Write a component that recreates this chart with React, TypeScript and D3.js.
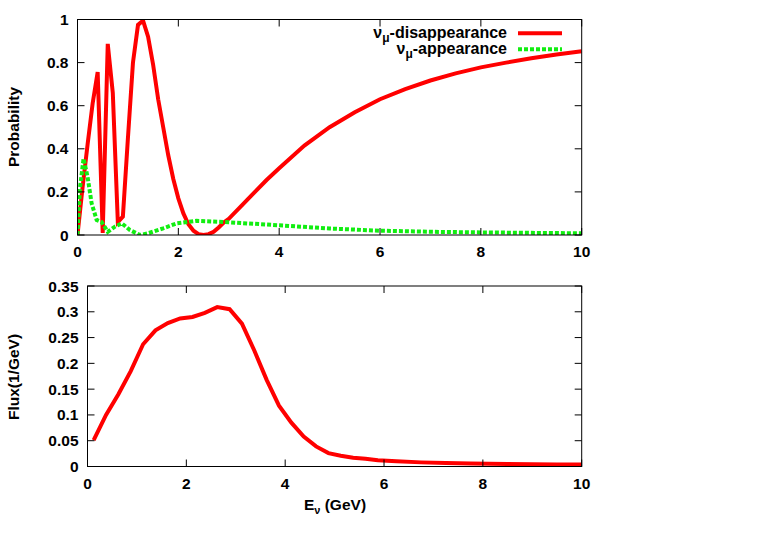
import React from 'react'
import * as d3 from 'd3'

// top panel: oscillation probabilities vs E (GeV)
const disE = [0, 0.1, 0.2, 0.3, 0.4, 0.5, 0.6, 0.7, 0.8, 0.9, 1.0, 1.1, 1.2, 1.3, 1.4, 1.5,
  1.6, 1.7, 1.8, 1.9, 2.0, 2.1, 2.2, 2.3, 2.4, 2.5, 2.6, 2.7, 2.8, 2.9, 3.0,
  3.25, 3.5, 3.75, 4.0, 4.5, 5.0, 5.5, 6.0, 6.5, 7.0, 7.5, 8.0, 8.5, 9.0, 9.5, 10]
const disP = [0, 0.22, 0.42, 0.61, 0.756, 0.01, 0.887, 0.66, 0.06, 0.085, 0.45, 0.8, 0.975, 0.995, 0.92, 0.79,
  0.63, 0.5, 0.37, 0.26, 0.17, 0.1, 0.05, 0.02, 0.004, 0, 0.004, 0.015, 0.035, 0.058, 0.075,
  0.135, 0.195, 0.255, 0.31, 0.415, 0.5, 0.57, 0.63, 0.677, 0.717, 0.75, 0.778, 0.8, 0.82, 0.838, 0.853]

const appE = [0, 0.05, 0.12, 0.2, 0.28, 0.38, 0.48, 0.6, 0.75, 0.88, 1.04, 1.24, 1.4, 1.7, 1.97, 2.36,
  3.0, 3.5, 4.0, 5.0, 6.0, 7.0, 8.0, 9.0, 10]
const appP = [0, 0.22, 0.355, 0.27, 0.147, 0.07, 0.06, 0.015, 0.04, 0.054, 0.023, 0, 0.008, 0.031, 0.054, 0.066,
  0.059, 0.052, 0.045, 0.03, 0.02, 0.015, 0.012, 0.01, 0.008]

// bottom panel: flux
const fluxE = [0.125, 0.375, 0.625, 0.875, 1.125, 1.375, 1.625, 1.875, 2.125, 2.375, 2.625, 2.875,
  3.125, 3.375, 3.625, 3.875, 4.125, 4.375, 4.625, 4.875, 5.125, 5.375, 5.625, 5.875,
  6.25, 6.75, 7.25, 7.75, 8.5, 9.5, 10]
const fluxV = [0.051, 0.1, 0.14, 0.185, 0.237, 0.264, 0.278, 0.287, 0.29, 0.298, 0.309, 0.305,
  0.277, 0.225, 0.168, 0.118, 0.085, 0.058, 0.039, 0.026, 0.021, 0.017, 0.015, 0.012,
  0.01, 0.008, 0.007, 0.006, 0.005, 0.004, 0.004]

const xTicks = [0, 2, 4, 6, 8, 10]
const probTicks = [0, 0.2, 0.4, 0.6, 0.8, 1]
const probLabels = ['0', '0.2', '0.4', '0.6', '0.8', '1']
const fluxTicks = [0, 0.05, 0.1, 0.15, 0.2, 0.25, 0.3, 0.35]
const fluxLabels = ['0', '0.05', '0.1', '0.15', '0.2', '0.25', '0.3', '0.35']

const FONT = '"Liberation Sans", Arial, Helvetica, sans-serif'
const FS = 15.5
const TICK = 7
const GREEN = '#11ee11'

type Pt = [number, number]

const Panel = ({ x0, x1, y0, y1, yMax, yTicks, yLabels, clipId, children }: any) => {
  const xs = d3.scaleLinear().domain([0, 10]).range([x0, x1])
  const ys = d3.scaleLinear().domain([0, yMax]).range([y1, y0])
  return (
    <g>
      <defs>
        <clipPath id={clipId}>
          <rect x={x0} y={y0} width={x1 - x0} height={y1 - y0} />
        </clipPath>
      </defs>
      <g clipPath={`url(#${clipId})`}>{children(xs, ys)}</g>
      <rect x={x0} y={y0} width={x1 - x0} height={y1 - y0} fill="none" stroke="#000" strokeWidth={1} />
      {xTicks.map(t => (
        <g key={'x' + t}>
          <line x1={xs(t)} x2={xs(t)} y1={y1} y2={y1 - TICK} stroke="#000" />
          <line x1={xs(t)} x2={xs(t)} y1={y0} y2={y0 + TICK} stroke="#000" />
          <text x={xs(t)} y={y1 + 22} textAnchor="middle" fontSize={FS} fontWeight="bold" fontFamily={FONT}>{t}</text>
        </g>
      ))}
      {yTicks.map((t: number, i: number) => (
        <g key={'y' + t}>
          <line x1={x0} x2={x0 + TICK} y1={ys(t)} y2={ys(t)} stroke="#000" />
          <line x1={x1} x2={x1 - TICK} y1={ys(t)} y2={ys(t)} stroke="#000" />
          <text x={x0 - 9} y={ys(t) + 5.5} textAnchor="end" fontSize={FS} fontWeight="bold" fontFamily={FONT}>{yLabels[i]}</text>
        </g>
      ))}
    </g>
  )
}

export default function App() {
  const line = (xs: any, ys: any) => d3.line<Pt>().x(d => xs(d[0])).y(d => ys(d[1]))
  const dis: Pt[] = disE.map((e, i) => [e, disP[i]])
  const app: Pt[] = appE.map((e, i) => [e, appP[i]])
  const flux: Pt[] = fluxE.map((e, i) => [e, fluxV[i]])

  return (
    <svg width={763} height={534} style={{ position: 'absolute', left: 0, top: 0, background: '#fff' }}>
      <Panel x0={77.5} x1={581.7} y0={19.5} y1={235} yMax={1} yTicks={probTicks} yLabels={probLabels} clipId="c1">
        {(xs: any, ys: any) => (
          <g>
            <path d={line(xs, ys)(dis) || ''} fill="none" stroke="#ff0000" strokeWidth={4} />
            <path d={line(xs, ys)(app) || ''} fill="none" stroke={GREEN} strokeWidth={4} strokeDasharray="4,2" />
          </g>
        )}
      </Panel>
      <Panel x0={87.5} x1={581.7} y0={286} y1={466.5} yMax={0.35} yTicks={fluxTicks} yLabels={fluxLabels} clipId="c2">
        {(xs: any, ys: any) => (
          <path d={line(xs, ys)(flux) || ''} fill="none" stroke="#ff0000" strokeWidth={4} />
        )}
      </Panel>

      {/* legend */}
      <g fontFamily={FONT} fontWeight="bold" fontSize={16}>
        <text x={507} y={37.5} textAnchor="end">
          ν<tspan fontSize={12} dy={4}>μ</tspan><tspan dy={-4}>-disappearance</tspan>
        </text>
        <line x1={518} x2={562} y1={33.3} y2={33.3} stroke="#ff0000" strokeWidth={4} />
        <text x={507} y={53.5} textAnchor="end">
          ν<tspan fontSize={12} dy={4}>μ</tspan><tspan dy={-4}>-appearance</tspan>
        </text>
        <line x1={518} x2={562} y1={49.3} y2={49.3} stroke={GREEN} strokeWidth={4} strokeDasharray="4,2" />
      </g>

      {/* axis titles */}
      <g fontFamily={FONT} fontWeight="bold" fontSize={FS}>
        <text transform="translate(19,127) rotate(-90)" textAnchor="middle">Probability</text>
        <text transform="translate(19,377) rotate(-90)" textAnchor="middle">Flux(1/GeV)</text>
        <text x={335} y={510} textAnchor="middle">
          E<tspan fontSize={11} dy={4}>ν</tspan><tspan dy={-4}> (GeV)</tspan>
        </text>
      </g>
    </svg>
  )
}
